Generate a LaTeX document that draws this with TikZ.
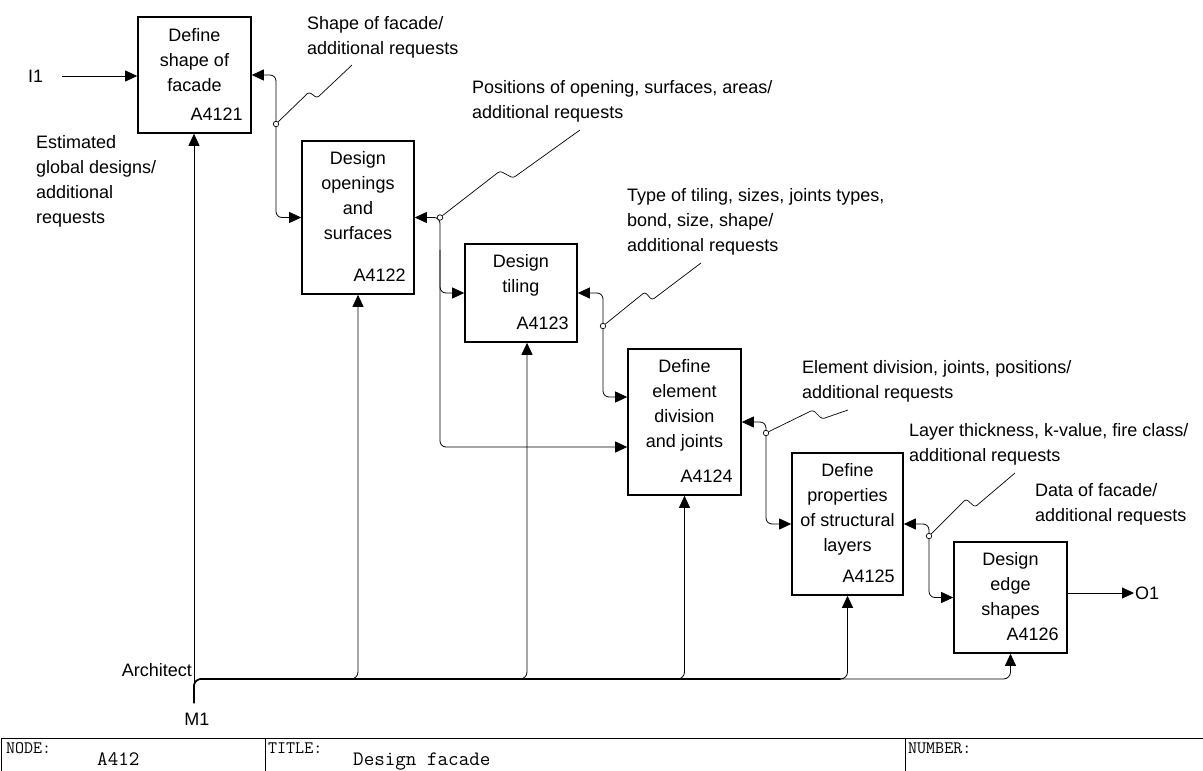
\documentclass[tikz,border=0pt]{standalone}
\usepackage{fontspec}
\setmainfont{Liberation Sans}
\usetikzlibrary{arrows.meta,calc}
\tikzset{
  box/.style={draw, line width=1.6pt, inner sep=0pt},
  txt/.style={font=\fontsize{18}{25}\selectfont, inner sep=0pt},
  ttl/.style={txt, align=center, anchor=north},
  num/.style={txt, anchor=base east},
  lbl/.style={txt, align=left, anchor=north west},
  arr/.style={line width=0.8pt, -{Triangle[length=12pt,width=11pt]}},
  biarr/.style={line width=0.8pt, {Triangle[length=12pt,width=11pt]}-{Triangle[length=12pt,width=11pt]}, rounded corners=6pt},
  mecharr/.style={line width=0.8pt, -{Triangle[length=12pt,width=11pt]}, rounded corners=7pt},
  lead/.style={line width=0.7pt, rounded corners=2.5pt},
  dot/.style={circle, draw, fill=white, inner sep=0pt, minimum size=5.5pt, line width=0.7pt},
  ftlab/.style={anchor=base west, inner sep=0pt, font=\ttfamily\fontsize{17.5}{17.5}\selectfont},
  ftval/.style={anchor=base west, inner sep=0pt, font=\ttfamily\fontsize{20.5}{20.5}\selectfont}
}
\begin{document}
\begin{tikzpicture}[x=1pt,y=-1pt]
\useasboundingbox (0,0) rectangle (1203,771);

% boxes
\node[box, minimum width=113pt, minimum height=116pt] (b1) at (194.5,75) {};
\node[box, minimum width=112pt, minimum height=153pt] (b2) at (358,217.5) {};
\node[box, minimum width=112pt, minimum height=98pt] (b3) at (521,293) {};
\node[box, minimum width=113pt, minimum height=146pt] (b4) at (684.5,422) {};
\node[box, minimum width=111pt, minimum height=142pt] (b5) at (847.5,524) {};
\node[box, minimum width=113pt, minimum height=111pt] (b6) at (1010.5,597.5) {};

\node[ttl] (t1) at ([yshift=-8pt]b1.north) {\strut Define\\shape of\\facade};
\node[ttl] (t2) at ([yshift=-7pt]b2.north) {\strut Design\\openings\\and\\surfaces};
\node[ttl] (t3) at ([yshift=-7pt]b3.north) {\strut Design\\tiling};
\node[ttl] (t4) at ([yshift=-7pt]b4.north) {\strut Define\\element\\division\\and joints};
\node[ttl] (t5) at ([yshift=-7pt]b5.north) {\strut Define\\properties\\of structural\\layers};
\node[ttl] (t6) at ([yshift=-7pt]b6.north) {\strut Design\\edge\\shapes};

\node[num] (n1) at ([xshift=-9pt,yshift=13pt]b1.south east) {A4121};
\node[num] (n2) at ([xshift=-9pt,yshift=13pt]b2.south east) {A4122};
\node[num] (n3) at ([xshift=-9pt,yshift=13pt]b3.south east) {A4123};
\node[num] (n4) at ([xshift=-9pt,yshift=13pt]b4.south east) {A4124};
\node[num] (n5) at ([xshift=-9pt,yshift=13pt]b5.south east) {A4125};
\node[num] (n6) at ([xshift=-9pt,yshift=13pt]b6.south east) {A4126};

% input / output
\node[txt, anchor=west] (i1) at (28,76) {I1};
\draw[arr, shorten <=19pt] (i1.east) -- (i1.east -| b1.west);
\node[txt, anchor=west] (o1) at (1135,593) {O1};
\draw[arr] (o1.west -| b6.east) -- ([xshift=-1pt]o1.west);

% interconnections
\coordinate (j1) at (276,124);
\coordinate (j2) at (440,217.5);
\coordinate (j2b) at (440,250);
\coordinate (j3) at (603,326);
\coordinate (j4) at (766,433);
\coordinate (j5) at (929,536);
\draw[biarr] (b1.east) -| (j1) |- (b2.west);
\draw[biarr] (b2.east) -| (j2b) |- (b3.west);
\draw[mecharr, rounded corners=6pt] (j2b) |- ([yshift=-25pt]b4.west);
\draw[biarr] (b3.east) -| (j3) |- ([yshift=25pt]b4.west);
\draw[biarr] (b4.east) -| (j4) |- (b5.west);
\draw[biarr] (b5.east) -| (j5) |- (b6.west);

% leader lines and labels
\node[dot] (c1) at (j1) {};
\node[dot] (c2) at (j2) {};
\node[dot] (c3) at (j3) {};
\node[dot] (c4) at (j4) {};
\node[dot] (c5) at (j5) {};
\draw[lead] (c1) -- (309,92) -- (317,98) -- (352,65);
\draw[lead] (c2) -- (500,171) -- (513,178) -- (580,130);
\draw[lead] (c3) -- (645,292) -- (652,300) -- (701,263);
\draw[lead] (c4) -- (813,410) -- (822,419) -- (848,410);
\draw[lead] (c5) -- (966,499) -- (975,507) -- (1015,473);

\node[lbl] (l1) at (307,12) {\strut Shape of facade/\\additional requests};
\node[lbl] (l2) at (472,76) {\strut Positions of opening, surfaces, areas/\\additional requests};
\node[lbl] (l3) at (627,184) {\strut Type of tiling, sizes, joints types,\\bond, size, shape/\\additional requests};
\node[lbl] (l4) at (802,356) {\strut Element division, joints, positions/\\additional requests};
\node[lbl] (l5) at (909,419) {\strut Layer thickness, k-value, fire class/\\additional requests};
\node[lbl] (l6) at (1035,479) {\strut Data of facade/\\additional requests};
\node[lbl] (est) at (36,131) {\strut Estimated\\global designs/\\additional\\requests};

% mechanism
\coordinate (m1) at (194,703);
\coordinate (bus) at (0,679);
\coordinate (b3m) at ([xshift=6pt]b3.south);
\node[txt, anchor=base] (m1l) at (197,725) {M1};
\node[txt, anchor=base east] (arch) at (192,676.5) {Architect};
\draw[arr] (m1) -- (m1 |- b1.south);
\draw[mecharr] (m1) |- (b2.south |- bus) -- (b2.south);
\draw[mecharr] (m1) |- (b3m |- bus) -- (b3m);
\draw[mecharr] (m1) |- (b4.south |- bus) -- (b4.south);
\draw[mecharr] (m1) |- (b5.south |- bus) -- (b5.south);
\draw[mecharr] (m1) |- (b6.south |- bus) -- (b6.south);
\draw[line width=1.6pt, rounded corners=7pt, shorten >=7pt] (m1) |- (b5.south |- bus);

% footer
\draw[line width=0.8pt] (1203,738) -- (1,738) -- (1,771);
\draw[line width=0.8pt] (265,738) -- (265,771);
\draw[line width=0.8pt] (905,738) -- (905,771);
\node[ftlab] (fn) at (6,753) {NODE:};
\node[ftval] (fnv) at (97,765) {A412};
\node[ftlab] (ft) at (268,753) {TITLE:};
\node[ftval] (ftv) at (353,765) {Design facade};
\node[ftlab] (fnum) at (908,753) {NUMBER:};
\end{tikzpicture}
\end{document}
